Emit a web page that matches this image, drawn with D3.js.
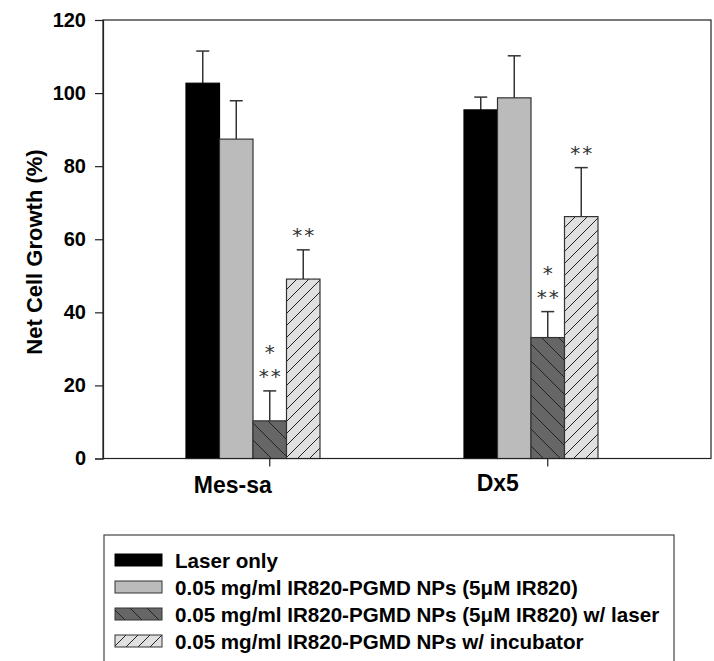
<!DOCTYPE html>
<html>
<head>
<meta charset="utf-8">
<script src="https://cdn.jsdelivr.net/npm/d3@7"></script>
<style>
  html, body { margin: 0; padding: 0; background: #fff; }
  svg { display: block; font-family: "Liberation Sans", Arial, sans-serif; }
</style>
</head>
<body>
<div id="chart"></div>
<script>
// ── Net cell growth, Mes-sa vs Dx5, four treatments ──
const groups = ["Mes-sa", "Dx5"];
const series = [
    "Laser only",
    "0.05 mg/ml IR820-PGMD NPs (5\u03BCM IR820)",
    "0.05 mg/ml IR820-PGMD NPs (5\u03BCM IR820) w/ laser",
    "0.05 mg/ml IR820-PGMD NPs w/ incubator"
];
const mesSaMeans = [102.7, 87.4, 10.3, 49.1];
const mesSaErrs  = [8.8, 10.5, 8.2, 8.0];
const dx5Means   = [95.4, 98.7, 33.1, 66.2];
const dx5Errs    = [3.5, 11.5, 7.1, 13.4];
// significance marks above each bar (bottom line first)
const mesSaStars = [[], [], ["**", "*"], ["**"]];
const dx5Stars   = [[], [], ["**", "*"], ["**"]];
const yTicks = [0, 20, 40, 60, 80, 100, 120];

const data = [];
groups.forEach((g, gi) => {
    const m = gi === 0 ? mesSaMeans : dx5Means;
    const e = gi === 0 ? mesSaErrs : dx5Errs;
    const s = gi === 0 ? mesSaStars : dx5Stars;
    series.forEach((name, si) => data.push({ group: g, series: name, si, value: m[si], err: e[si], stars: s[si] }));
});

const width = 714, height = 661;
const svg = d3.select("#chart").append("svg")
    .attr("width", width).attr("height", height);

// hatch patterns
const defs = svg.append("defs");
function hatch(id, bg, step, dir) {
    const p = defs.append("pattern").attr("id", id)
        .attr("patternUnits", "userSpaceOnUse")
        .attr("width", step).attr("height", step);
    p.append("rect").attr("width", step).attr("height", step).attr("fill", bg);
    const d = dir === "/"
        ? `M0,${step} L${step},0 M${-step/2},${step/2} L${step/2},${-step/2} M${step/2},${step*1.5} L${step*1.5},${step/2}`
        : `M0,0 L${step},${step} M${-step/2},${step/2} L${step/2},${step*1.5} M${step/2},${-step/2} L${step*1.5},${step/2}`;
    p.append("path").attr("d", d).attr("stroke", "#222").attr("stroke-width", 1).attr("fill", "none");
}
hatch("hatchDark", "#666666", 17, "\\");
hatch("hatchLight", "#e0e0e0", 12, "/");
const fills = ["#000000", "#bbbbbb", "url(#hatchDark)", "url(#hatchLight)"];
const strokes = ["#000000", "#333333", "#333333", "#333333"];

const plot = { left: 103, right: 711, top: 20, bottom: 458.5 };

const yScale = d3.scaleLinear().domain([0, 120]).range([plot.bottom, plot.top]);
const xGroup = d3.scaleBand().domain(groups).range([186, 598])
    .paddingInner(0.518).paddingOuter(0);
const xSeries = d3.scaleBand().domain(series).range([0, xGroup.bandwidth()]).padding(0);
const bw = xSeries.bandwidth();

// frame
svg.append("rect")
    .attr("x", plot.left).attr("y", plot.top)
    .attr("width", plot.right - plot.left).attr("height", plot.bottom - plot.top)
    .attr("fill", "none").attr("stroke", "#222").attr("stroke-width", 1.2);

// y axis
const yAxis = svg.append("g").attr("transform", `translate(${plot.left},0)`)
    .call(d3.axisLeft(yScale).tickValues(yTicks).tickSize(8).tickPadding(9));
yAxis.select(".domain").attr("stroke", "#222").attr("stroke-width", 1.2);
yAxis.selectAll(".tick line").attr("stroke", "#222").attr("stroke-width", 1.2);
yAxis.selectAll("text")
    .style("font-family", "'Liberation Sans', Arial, sans-serif")
    .style("font-size", "20px").style("font-weight", "bold").attr("fill", "#000");

svg.append("text")
    .attr("transform", `translate(42,${252}) rotate(-90)`)
    .attr("text-anchor", "middle")
    .style("font-size", "22px").style("font-weight", "bold")
    .text("Net Cell Growth (%)");

// x ticks at the third bar of each group
const tickX = g => xGroup(g) + xSeries(series[2]) + bw / 2;
svg.selectAll("line.xtick").data(groups).join("line").attr("class", "xtick")
    .attr("x1", tickX).attr("x2", tickX)
    .attr("y1", plot.bottom).attr("y2", plot.bottom + 8)
    .attr("stroke", "#222").attr("stroke-width", 1.2);
const labelDx = [-37, -50], labelY = [493, 491];
svg.selectAll("text.xlab").data(groups).join("text").attr("class", "xlab")
    .attr("x", (g, i) => tickX(g) + labelDx[i]).attr("y", (g, i) => labelY[i])
    .attr("text-anchor", "middle")
    .style("font-size", "23px").style("font-weight", "bold")
    .text(d => d);

// error bars (upper only)
const eb = svg.selectAll("g.err").data(data).join("g").attr("class", "err")
    .attr("transform", d => `translate(${xGroup(d.group) + xSeries(d.series) + bw / 2},0)`);
eb.append("line")
    .attr("y1", d => yScale(d.value)).attr("y2", d => yScale(d.value + d.err))
    .attr("stroke", "#333").attr("stroke-width", 1.5);
eb.append("line")
    .attr("x1", -6.5).attr("x2", 6.5)
    .attr("y1", d => yScale(d.value + d.err)).attr("y2", d => yScale(d.value + d.err))
    .attr("stroke", "#333").attr("stroke-width", 1.5);

// bars
svg.selectAll("rect.bar").data(data).join("rect").attr("class", "bar")
    .attr("x", d => xGroup(d.group) + xSeries(d.series))
    .attr("y", d => yScale(d.value))
    .attr("width", bw)
    .attr("height", d => yScale(0) - yScale(d.value))
    .attr("fill", d => fills[d.si])
    .attr("stroke", d => strokes[d.si]).attr("stroke-width", 1.2);

// significance stars
eb.each(function(d) {
    const top = yScale(d.value + d.err);
    d.stars.forEach((s, k) => {
        d3.select(this).append("text")
            .attr("x", 1).attr("y", top - 21 - k * 24 + 13)
            .attr("text-anchor", "middle")
            .style("font-family", "'DejaVu Sans', sans-serif")
            .style("font-size", "20px").style("letter-spacing", "2px")
            .attr("fill", "#333")
            .text(s);
    });
});

// redraw baseline over bars
svg.append("line")
    .attr("x1", plot.left).attr("x2", plot.right)
    .attr("y1", plot.bottom).attr("y2", plot.bottom)
    .attr("stroke", "#222").attr("stroke-width", 1.2);

// legend
const legend = svg.append("g");
legend.append("rect")
    .attr("x", 104).attr("y", 535).attr("width", 570).attr("height", 160)
    .attr("fill", "none").attr("stroke", "#444").attr("stroke-width", 1.2);
const rowY = d3.scalePoint().domain(series).range([560, 641]);
const rows = legend.selectAll("g.row").data(series).join("g").attr("class", "row")
    .attr("transform", d => `translate(0,${rowY(d)})`);
rows.append("rect")
    .attr("x", 115).attr("y", -6).attr("width", 47).attr("height", 12)
    .attr("fill", (d, i) => fills[i]).attr("stroke", (d, i) => strokes[i]).attr("stroke-width", 1);
rows.append("text")
    .attr("x", 175).attr("y", 8)
    .style("font-size", "20.6px").style("font-weight", "bold")
    .text(d => d);
</script>
</body>
</html>
